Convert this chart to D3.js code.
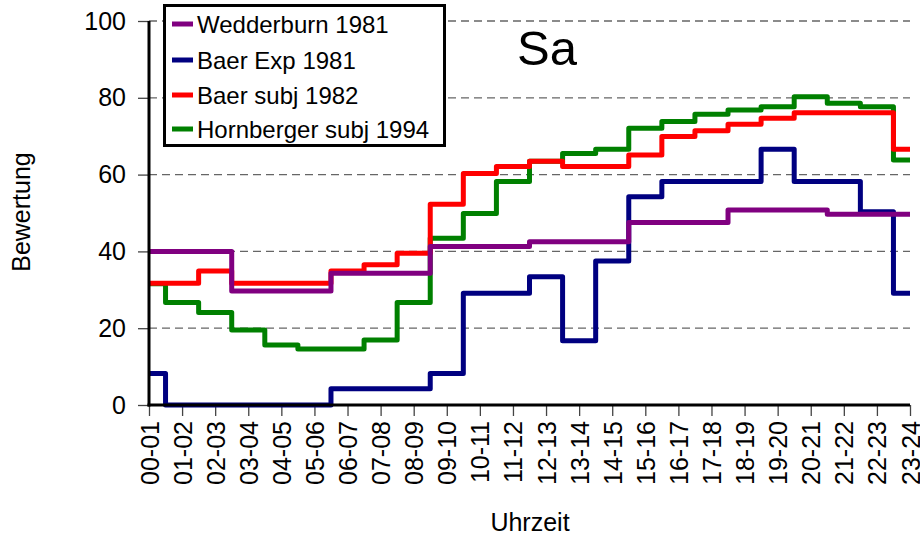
<!DOCTYPE html>
<html>
<head>
<meta charset="utf-8">
<script src="https://d3js.org/d3.v7.min.js"></script>
<style>
  html, body { margin: 0; padding: 0; background: #fff; }
  svg { display: block; font-family: "Liberation Sans", Arial, Helvetica, sans-serif; }
</style>
</head>
<body>
<svg id="chart" width="920" height="538"></svg>
<script>
const categories = ["00-01","01-02","02-03","03-04","04-05","05-06","06-07","07-08","08-09","09-10","10-11","11-12",
                    "12-13","13-14","14-15","15-16","16-17","17-18","18-19","19-20","20-21","21-22","22-23","23-24"];
const seriesNames = ["Wedderburn 1981", "Baer Exp 1981", "Baer subj 1982", "Hornberger subj 1994"];
const wedderburn = [40,40,40,29.7,29.7,29.7,34.3,34.3,34.3,41.3,41.3,41.3,42.5,42.5,42.5,47.5,47.5,47.5,50.8,50.8,50.8,49.7,49.7,49.7];
const baerExp    = [8.2,0,0,0,0,0,4.2,4.2,4.2,8.2,29.1,29.1,33.4,16.7,37.5,54.2,58.2,58.2,58.2,66.6,58.2,58.2,50.3,29.1];
const baerSubj   = [31.7,31.7,34.9,31.7,31.7,31.7,34.9,36.5,39.5,52.3,60.3,62.1,63.5,62.1,62.1,65.1,69.9,71.4,73.1,74.7,76.1,76.1,76.1,66.6];
const hornberger = [31.6,26.7,24.1,19.5,15.6,14.6,14.6,16.9,26.7,43.4,49.9,58.2,63.5,65.5,66.6,72.1,73.8,75.7,76.8,77.7,80.3,78.6,77.7,63.8];
const yTicks = [0,20,40,60,80,100];
const colors = ["#800080", "#000080", "#ff0000", "#008000"];
const title = "Sa";
const xTitle = "Uhrzeit";
const yTitle = "Bewertung";

const svg = d3.select("#chart");
const pLeft = 149, pRight = 910, pTop = 21, pBottom = 405;

const x = d3.scalePoint().domain(categories).range([pLeft, pRight]);
const y = d3.scaleLinear().domain([0, 100]).range([pBottom, pTop]);

// grid
svg.append("g").selectAll("line").data(yTicks.filter(d => d > 0)).join("line")
  .attr("x1", pLeft).attr("x2", pRight)
  .attr("y1", d => y(d)).attr("y2", d => y(d))
  .attr("stroke", "#666").attr("stroke-width", 1.3).attr("stroke-dasharray", "8,5");

// y axis
const yAxis = svg.append("g").attr("transform", `translate(${pLeft},0)`)
  .call(d3.axisLeft(y).tickValues(yTicks).tickSize(11).tickPadding(12));
yAxis.select(".domain").remove();
yAxis.selectAll(".tick line").attr("stroke", "#444").attr("stroke-width", 1.3);
yAxis.selectAll(".tick text").attr("font-size", 25).attr("fill", "#000")
  .attr("font-family", "'Liberation Sans', Arial, sans-serif");

// x axis
const xAxis = svg.append("g").attr("transform", `translate(0,${pBottom})`)
  .call(d3.axisBottom(x).tickSize(11).tickPadding(0));
xAxis.select(".domain").remove();
xAxis.selectAll(".tick line").attr("stroke", "#444").attr("stroke-width", 1.3);
xAxis.selectAll(".tick text")
  .attr("font-size", 25).attr("fill", "#000")
  .attr("font-family", "'Liberation Sans', Arial, sans-serif")
  .attr("text-anchor", "end")
  .attr("dy", null).attr("y", null)
  .attr("dominant-baseline", "central")
  .attr("transform", "translate(0,16) rotate(-90)");

// series lines
const all = [wedderburn, baerExp, baerSubj, hornberger];
const line = d3.line().x((d, i) => x(categories[i])).y(d => y(d)).curve(d3.curveStep);
const order = [3, 2, 1, 0];
order.forEach(k => {
  svg.append("path").datum(all[k])
    .attr("d", line)
    .attr("fill", "none")
    .attr("stroke", colors[k])
    .attr("stroke-width", 5)
    .attr("stroke-linejoin", "round")
    .attr("stroke-linecap", "butt");
});

// axis lines
svg.append("line").attr("x1", pLeft).attr("x2", pLeft).attr("y1", pTop).attr("y2", pBottom + 1.5)
  .attr("stroke", "#000").attr("stroke-width", 3);
svg.append("line").attr("x1", pLeft - 1.5).attr("x2", pRight).attr("y1", pBottom).attr("y2", pBottom)
  .attr("stroke", "#000").attr("stroke-width", 3);

// title
svg.append("text").attr("x", 517).attr("y", 65).attr("font-size", 49).attr("fill", "#000").text(title);

// axis titles
svg.append("text").attr("x", 530).attr("y", 531).attr("text-anchor", "middle")
  .attr("font-size", 25).attr("fill", "#000").text(xTitle);
svg.append("text").attr("transform", "translate(30,212) rotate(-90)").attr("text-anchor", "middle")
  .attr("font-size", 25).attr("fill", "#000").text(yTitle);

// legend
const lg = svg.append("g");
lg.append("rect").attr("x", 164.5).attr("y", 5.5).attr("width", 280).attr("height", 140)
  .attr("fill", "#fff").attr("stroke", "#000").attr("stroke-width", 3);
const ly = [24, 60, 95, 129];
seriesNames.forEach((name, i) => {
  lg.append("line").attr("x1", 172).attr("x2", 193).attr("y1", ly[i]).attr("y2", ly[i])
    .attr("stroke", colors[i]).attr("stroke-width", 5);
  lg.append("text").attr("x", 197).attr("y", ly[i]).attr("dominant-baseline", "central")
    .attr("font-size", 24).attr("fill", "#000").text(name);
});
</script>
</body>
</html>
